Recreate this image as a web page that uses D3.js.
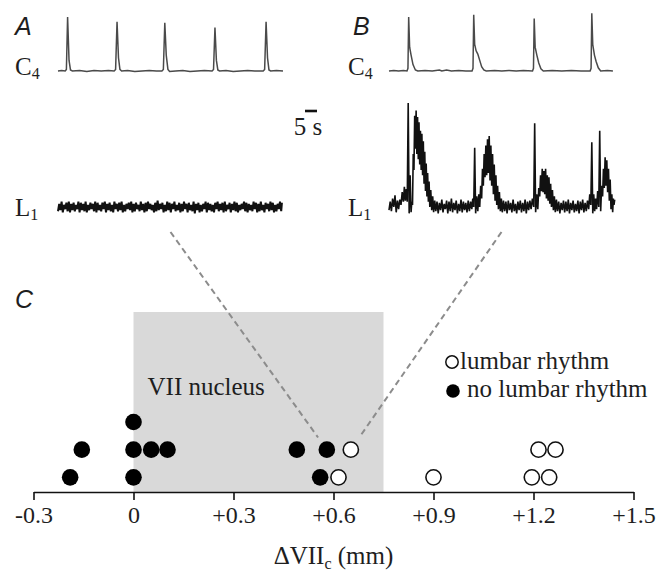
<!DOCTYPE html>
<html>
<head>
<meta charset="utf-8">
<script src="https://cdn.jsdelivr.net/npm/d3@7"></script>
<style>
  html, body { margin: 0; padding: 0; background: #fff; }
  svg { display: block; }
  text { font-family: "Liberation Serif", "Times New Roman", serif; fill: #1e1e1e; }
  .panel { font-family: "Liberation Sans", Arial, sans-serif; font-style: italic; }
</style>
</head>
<body>
<svg id="fig" width="659" height="573"></svg>
<script>
// ---------- data ----------
const tickValues   = [-0.3, 0, 0.3, 0.6, 0.9, 1.2, 1.5];
const nucleusRange = [0, 0.75];               // VII nucleus, mm
// [ΔVIIc (mm), stack row]
const noRhythm = [[-0.19, 1], [0, 1], [0.56, 1],
                  [-0.155, 2], [0, 2], [0.053, 2], [0.102, 2], [0.49, 2], [0.58, 2],
                  [0, 3]];
const rhythm   = [[0.615, 1], [0.9, 1], [1.195, 1], [1.247, 1],
                  [0.652, 2], [1.215, 2], [1.266, 2]];
// which experiment each example trace comes from
const links = [{ panel: 'A', at: [0.58, 2] }, { panel: 'B', at: [0.652, 2] }];

// C4 traces, [time (s), amplitude]
const c4A = [[0,0],[1.5,0.01],[3.0,0],[3.5,0.03],[4.0,1.02],[4.6,0.2],[5.2,0.02],[6,0],[9,0.01],[12,-0.01],
  [15,0.01],[18,0],[21,0.01],[23.4,0],[24.0,0.03],[24.6,0.93],[25.2,0.25],[25.8,0.03],[26.5,0],[29,0.01],
  [32,-0.01],[35,0],[38,0.01],[41,0],[43.3,0],[43.9,0.03],[44.5,0.91],[45.1,0.3],[45.8,0.03],[46.5,-0.01],
  [49,0],[52,0.01],[55,-0.01],[58,0],[61,0.01],[64.2,0],[64.8,0.03],[65.4,0.82],[66.0,0.2],[66.6,0.02],
  [67.3,0],[70,0.01],[73,-0.01],[76,0],[79,0.01],[82,0],[85.5,0],[86.1,0.03],[86.7,0.93],[87.3,0.25],
  [87.9,0.02],[88.6,0],[91,0.01],[93.75,0]];
const c4B = [[0,0],[2,0.01],[4,0],[6,0.01],[7.5,0],[7.9,0.05],[8.2,1.02],[8.6,0.45],[9.2,0.3],[10,0.12],
  [11,0.02],[12,0],[15,0.01],[18,0],[21,0.02],[22,0],[24,0.02],[26,0],[29,0.01],[32,0],[34.6,0],[35.0,0.05],
  [35.3,1.06],[35.7,0.5],[36.3,0.38],[37.0,0.32],[37.8,0.2],[38.6,0.08],[39.5,0.02],[40.5,0],[44,0.01],[47,0],
  [50,0.01],[53,0],[56,0.01],[59.8,0],[60.2,0.05],[60.5,0.99],[60.9,0.45],[61.6,0.3],[62.4,0.15],[63.3,0.04],
  [64.3,0],[68,0.01],[72,0],[76,0.01],[80,0],[83.8,0],[84.2,0.05],[84.5,1.09],[84.9,0.5],[85.6,0.3],[86.3,0.18],
  [87.2,0.06],[88.2,0],[91,0.01],[93.3,0]];

// L1 in A: [low, high] envelope, one pair per second
const l1A = [
  [-0.04,0.03],[-0.03,0.05],[-0.05,0.02],[-0.02,0.04],[-0.04,0.05],[-0.05,0.03],[-0.03,0.04],[-0.04,0.02],[-0.02,0.05],[-0.05,0.04],
  [-0.03,0.03],[-0.04,0.05],[-0.05,0.02],[-0.03,0.04],[-0.02,0.03],[-0.04,0.05],[-0.05,0.04],[-0.03,0.02],[-0.04,0.04],[-0.02,0.05],
  [-0.05,0.03],[-0.03,0.04],[-0.04,0.02],[-0.05,0.05],[-0.02,0.03],[-0.04,0.04],[-0.03,0.05],[-0.05,0.02],[-0.04,0.03],[-0.02,0.04],
  [-0.03,0.05],[-0.05,0.03],[-0.04,0.04],[-0.02,0.02],[-0.04,0.05],[-0.03,0.03],[-0.05,0.04],[-0.04,0.05],[-0.02,0.03],[-0.03,0.02],
  [-0.05,0.04],[-0.04,0.06],[-0.03,0.03],[-0.02,0.04],[-0.05,0.02],[-0.04,0.05],[-0.03,0.04],[-0.05,0.03],[-0.02,0.05],[-0.04,0.02],
  [-0.03,0.04],[-0.05,0.03],[-0.04,0.05],[-0.02,0.03],[-0.05,0.04],[-0.03,0.02],[-0.04,0.05],[-0.06,0.03],[-0.03,0.04],[-0.05,0.02],
  [-0.04,0.03],[-0.02,0.05],[-0.05,0.04],[-0.03,0.03],[-0.04,0.02],[-0.05,0.04],[-0.02,0.05],[-0.04,0.03],[-0.03,0.04],[-0.05,0.05],
  [-0.04,0.02],[-0.02,0.04],[-0.05,0.03],[-0.03,0.05],[-0.04,0.04],[-0.05,0.02],[-0.03,0.03],[-0.02,0.05],[-0.04,0.04],[-0.05,0.03],
  [-0.03,0.02],[-0.04,0.05],[-0.02,0.04],[-0.05,0.03],[-0.04,0.05],[-0.03,0.02],[-0.05,0.04],[-0.02,0.03],[-0.04,0.05],[-0.03,0.04],
  [-0.05,0.02],[-0.04,0.03],[-0.02,0.05],[-0.04,0.04]
];

// L1 in B: [time (s), low, high]
const l1B = [
  [0,-0.03,0.05],[1,-0.04,0.08],[2,0.00,0.11],[3,-0.05,0.06],[4,-0.02,0.07],[5,0.02,0.14],[6,0.05,0.19],[6.8,0.06,0.17],
  [7.6,0.05,0.98],[8.4,-0.06,0.3],[9.2,-0.05,0.05],[9.8,0.02,0.5],[10.4,0.35,0.86],[11.0,0.55,0.91],[11.6,0.5,0.85],
  [12.2,0.45,0.8],[12.8,0.4,0.72],[13.4,0.35,0.69],[14.0,0.3,0.62],[14.6,0.22,0.52],[15.2,0.15,0.41],[15.8,0.1,0.32],
  [16.4,0.05,0.24],[17.0,0.0,0.16],[17.8,-0.03,0.1],[18.6,-0.05,0.06],
  [19.5,-0.04,0.05],[20.5,-0.06,0.04],[21.5,-0.03,0.07],[22.5,-0.05,0.03],[23.5,-0.02,0.06],[24.5,-0.06,0.05],
  [25.5,-0.04,0.08],[26.5,-0.05,0.04],[27.5,-0.03,0.06],[28.5,-0.06,0.03],[29.5,-0.04,0.07],[30.5,-0.05,0.05],
  [31.5,-0.03,0.04],[32.5,-0.05,0.06],[33.5,-0.04,0.05],[34.5,-0.02,0.08],
  [35.3,0.0,0.56],[36.1,-0.06,0.1],[37.0,-0.04,0.12],[37.8,0.0,0.2],[38.6,0.08,0.36],[39.3,0.2,0.5],[40.0,0.28,0.58],
  [40.7,0.3,0.64],[41.4,0.32,0.67],[42.1,0.25,0.58],[42.8,0.2,0.5],[43.5,0.12,0.4],[44.2,0.06,0.3],[44.9,0.02,0.2],
  [45.6,-0.02,0.14],[46.4,-0.04,0.08],[47.2,-0.05,0.06],
  [48.2,-0.04,0.05],[49.2,-0.06,0.06],[50.2,-0.03,0.04],[51.2,-0.05,0.07],[52.2,-0.04,0.03],[53.2,-0.06,0.05],
  [54.2,-0.03,0.06],[55.2,-0.05,0.04],[56.2,-0.04,0.07],[57.2,-0.06,0.05],[58.2,-0.03,0.06],[59.2,-0.02,0.08],
  [60.3,0.0,0.79],[61.1,-0.05,0.12],[62.0,-0.02,0.18],[62.8,0.1,0.3],[63.5,0.15,0.36],[64.2,0.14,0.34],[64.9,0.12,0.36],
  [65.6,0.08,0.3],[66.3,0.06,0.28],[67.0,0.03,0.22],[67.7,0.0,0.16],[68.5,-0.03,0.1],[69.3,-0.05,0.07],[70.2,-0.04,0.05],
  [71.2,-0.06,0.04],[72.2,-0.03,0.06],[73.2,-0.05,0.05],[74.2,-0.04,0.07],[75.2,-0.06,0.04],[76.2,-0.03,0.06],
  [77.2,-0.05,0.03],[78.2,-0.04,0.06],[79.2,-0.06,0.05],[80.2,-0.03,0.07],[81.2,-0.05,0.04],[82.2,-0.04,0.06],
  [83.2,-0.02,0.12],
  [84.1,0.02,0.61],[84.9,-0.06,0.12],[85.7,-0.04,0.08],[86.5,-0.02,0.15],[87.4,0.0,0.72],[88.2,-0.04,0.2],
  [89.0,0.1,0.36],[89.7,0.18,0.47],[90.4,0.2,0.44],[91.1,0.14,0.36],[91.8,0.06,0.26],[92.5,-0.02,0.12],
  [93.2,-0.05,0.08],[93.75,0.02,0.07]
];

const scaleBarSec = 5;

// ---------- layout ----------
const svg = d3.select('#fig');
const axisY = 492, nucleusTop = 312;

const x  = d3.scaleLinear().domain([-0.3, 1.5]).range([33.5, 633.5]);
const yRow = d3.scaleLinear().domain([0, 3]).range([505, 422]);

const xA = d3.scaleLinear().domain([0, 93.75]).range([58, 283]);
const xB = d3.scaleLinear().domain([0, 93.75]).range([389, 614]);
const yC4 = d3.scaleLinear().domain([0, 1]).range([71, 18]);
const yL1 = d3.scaleLinear().domain([0, 1]).range([207, 101]);

// ---------- panel C ----------
svg.append('rect')
  .attr('x', x(nucleusRange[0]))
  .attr('y', nucleusTop)
  .attr('width', x(nucleusRange[1]) - x(nucleusRange[0]))
  .attr('height', axisY - nucleusTop)
  .attr('fill', '#d9d9d9');

svg.append('text')
  .attr('x', x(nucleusRange[0]) + 14)
  .attr('y', 395)
  .style('font-size', '25px')
  .text('VII nucleus');

const fmt = v => v === 0 ? '0' : (v > 0 ? '+' + v.toFixed(1) : v.toFixed(1));

const ax = svg.append('g')
  .attr('transform', `translate(0,${axisY})`)
  .call(d3.axisBottom(x).tickValues(tickValues).tickFormat(fmt)
    .tickSize(8).tickSizeOuter(0).tickPadding(6));
ax.select('.domain').attr('stroke', '#111').attr('stroke-width', 1.6);
ax.selectAll('.tick line').attr('stroke', '#111').attr('stroke-width', 1.6);
ax.selectAll('.tick text')
  .attr('fill', '#1e1e1e')
  .style('font-family', '"Liberation Serif", "Times New Roman", serif')
  .style('font-size', '24px');

const title = svg.append('text')
  .attr('x', (x.range()[0] + x.range()[1]) / 2)
  .attr('y', 564)
  .attr('text-anchor', 'middle')
  .style('font-size', '25px');
title.append('tspan').text('ΔVII');
title.append('tspan').attr('dy', 5).style('font-size', '16px').text('c');
title.append('tspan').attr('dy', -5).text(' (mm)');

// dashed lines from the example traces to their dots
const linkStart = l => {
  const xs = l.panel === 'A' ? xA : xB;
  return [(xs.range()[0] + xs.range()[1]) / 2, yL1(0) + 25];
};
links.forEach(l => {
  const [sx, sy] = linkStart(l);
  const px = x(l.at[0]), py = yRow(l.at[1]);
  const dx = sx - px, dy = sy - py, len = Math.hypot(dx, dy);
  svg.append('line')
    .attr('x1', sx).attr('y1', sy)
    .attr('x2', px + dx / len * 15).attr('y2', py + dy / len * 15)
    .attr('stroke', '#8c8c8c')
    .attr('stroke-width', 2)
    .attr('stroke-dasharray', '6,4');
});

svg.append('g').selectAll('circle')
  .data(noRhythm)
  .join('circle')
    .attr('cx', d => x(d[0]))
    .attr('cy', d => yRow(d[1]))
    .attr('r', 8.3)
    .attr('fill', '#000');

svg.append('g').selectAll('circle')
  .data(rhythm)
  .join('circle')
    .attr('cx', d => x(d[0]))
    .attr('cy', d => yRow(d[1]))
    .attr('r', 7.6)
    .attr('fill', '#fff')
    .attr('stroke', '#111')
    .attr('stroke-width', 1.6);

// legend
svg.append('circle').attr('cx', 452).attr('cy', 362).attr('r', 6.2)
  .attr('fill', '#fff').attr('stroke', '#111').attr('stroke-width', 1.5);
svg.append('text').attr('x', 460).attr('y', 369).style('font-size', '25px').text('lumbar rhythm');
svg.append('circle').attr('cx', 453).attr('cy', 391).attr('r', 6.8).attr('fill', '#000');
svg.append('text').attr('x', 467).attr('y', 397).style('font-size', '25px').text('no lumbar rhythm');

// ---------- traces (A, B) ----------
const line = (xs) => d3.line().x(d => xs(d[0])).y(d => yC4(d[1]));

function envelopePath(xs, rows) {
  // zigzag low -> high for every sample
  const pts = [];
  rows.forEach((r, i) => {
    const t = r[0];
    const tn = i < rows.length - 1 ? rows[i + 1][0] : t + 0.6;
    pts.push([xs(t), yL1(r[1])]);
    pts.push([xs((t + tn) / 2), yL1(r[2])]);
  });
  return d3.line()(pts);
}

svg.append('path').attr('d', line(xA)(c4A))
  .attr('fill', 'none').attr('stroke', '#4a4a4a').attr('stroke-width', 1.5);
svg.append('path').attr('d', line(xB)(c4B))
  .attr('fill', 'none').attr('stroke', '#4a4a4a').attr('stroke-width', 1.5);

svg.append('path').attr('d', envelopePath(xA, l1A.map((d, i) => [i, d[0], d[1]])))
  .attr('fill', 'none').attr('stroke', '#111').attr('stroke-width', 2.0);
svg.append('path').attr('d', envelopePath(xB, l1B))
  .attr('fill', 'none').attr('stroke', '#111').attr('stroke-width', 1.6);

// scale bar
const barX = 305;
svg.append('line')
  .attr('x1', barX).attr('x2', barX + xA(scaleBarSec) - xA(0))
  .attr('y1', 111).attr('y2', 111)
  .attr('stroke', '#111').attr('stroke-width', 2.6);
svg.append('text').attr('x', 308).attr('y', 135).attr('text-anchor', 'middle')
  .style('font-size', '25px').text(scaleBarSec + ' s');

// channel labels
function chanLabel(lx, ly, main, sub) {
  const t = svg.append('text').attr('x', lx).attr('y', ly).style('font-size', '25px');
  t.append('tspan').text(main);
  t.append('tspan').attr('dy', 4).style('font-size', '16px').text(sub);
}
chanLabel(15, 75, 'C', '4');
chanLabel(15, 216, 'L', '1');
chanLabel(348, 75, 'C', '4');
chanLabel(348, 216, 'L', '1');

// panel letters
[['A', 15, 35], ['B', 353, 35], ['C', 15, 308]].forEach(([s, lx, ly]) => {
  svg.append('text').attr('class', 'panel')
    .attr('x', lx).attr('y', ly).style('font-size', '25px').text(s);
});
</script>
</body>
</html>
